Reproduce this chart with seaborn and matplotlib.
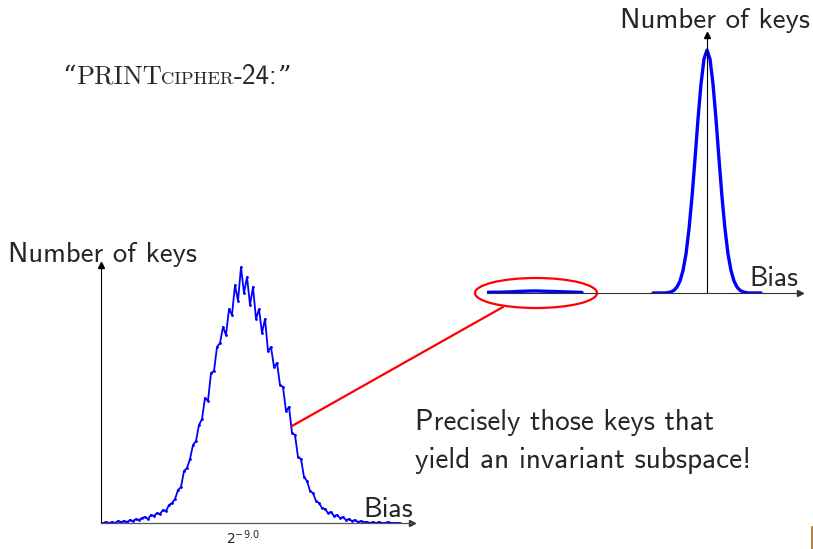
import numpy as np
import pandas as pd
import matplotlib
matplotlib.use("Agg")
import matplotlib.pyplot as plt
import seaborn as sns
from matplotlib.patches import Ellipse, ConnectionPatch
from matplotlib.lines import Line2D

# ---------------- data ----------------
# Left: histogram of bias over many keys (centred on 2^-9)
bias_left = np.linspace(0.000553, 0.003523, 100)
keys_left = [0, 1, 0, 1, 0, 2, 1, 2, 1, 3,
             2, 4, 3, 5, 6, 4, 8, 7, 10, 9,
             13, 12, 18, 20, 24, 33, 36, 52, 55, 64,
             78, 82, 98, 104, 125, 122, 150, 152, 176, 180,
             196, 188, 214, 208, 238, 222, 256, 230, 246, 218,
             236, 204, 214, 190, 204, 172, 176, 156, 160, 138,
             136, 112, 116, 90, 88, 66, 64, 46, 42, 32,
             30, 22, 20, 15, 14, 10, 11, 7, 8, 5,
             6, 3, 4, 2, 3, 1, 2, 1, 1, 0,
             1, 0, 1, 0, 0, 1, 0, 0, 0, 0]
tick_left = [2 ** -9.0]
tick_left_labels = [r"$2^{-9.0}$"]

# Right: full picture - invariant-subspace keys (far left) and the main peak
bias_inv = np.linspace(-0.00220, -0.00125, 16)
keys_inv = [0.6, 0.8, 0.8, 1.0, 1.2, 1.6, 1.8, 2.0,
            2.0, 1.8, 1.6, 1.4, 1.2, 1.0, 0.8, 0.6]
bias_main = np.linspace(-0.00054, 0.00054, 37)
keys_main = [0, 0, 0, 0, 0, 0.4, 1.1, 2.7, 6, 12, 22.5, 39, 64, 96, 134, 174, 209, 234,
             243,
             234, 209, 174, 134, 96, 64, 39, 22.5, 12, 6, 2.7, 1.1, 0.4, 0, 0, 0, 0, 0]

df_left = pd.DataFrame({"bias": bias_left, "keys": keys_left})
df_inv = pd.DataFrame({"bias": bias_inv, "keys": keys_inv})
df_main = pd.DataFrame({"bias": bias_main, "keys": keys_main})

# ---------------- style ----------------
sns.set_style("white")
plt.rcParams["font.family"] = ["cmss10", "DejaVu Sans"]
plt.rcParams["axes.unicode_minus"] = False
plt.rcParams["mathtext.fontset"] = "dejavusans"

W, H = 813, 549
fig = plt.figure(figsize=(W / 100, H / 100), dpi=100)
fig.patch.set_facecolor("white")
BLUE = "#0000ff"

def fx(x):
    return x / W

def fy(y):
    return 1 - y / H

# ---------------- left axes ----------------
ax1 = fig.add_axes([fx(101), fy(523), 311 / W, 258 / H])
sns.lineplot(data=df_left, x="bias", y="keys", ax=ax1, color=BLUE, lw=1.3,
             marker="o", markersize=2.0, markeredgewidth=0, markerfacecolor=BLUE)
ax1.set_xlim(0.000533, 0.003643)
ax1.set_ylim(0, 258)
for s in ["top", "right"]:
    ax1.spines[s].set_visible(False)
ax1.spines["left"].set_color("black")
ax1.spines["left"].set_linewidth(0.8)
ax1.spines["bottom"].set_color("#555555")
ax1.spines["bottom"].set_linewidth(0.9)
ax1.set_yticks([])
ax1.set_xticks(tick_left)
ax1.set_xticklabels(tick_left_labels, fontsize=10)
ax1.tick_params(axis="x", direction="inout", length=6, width=0.8, color="#777777", pad=1)
ax1.set_xlabel("")
ax1.set_ylabel("")
ax1.set_facecolor("none")
ax1.plot(1.0, 0, ">", transform=ax1.transAxes, clip_on=False, color="#333333", markersize=4)
ax1.plot(0, 1.0, "^", transform=ax1.transAxes, clip_on=False, color="black", markersize=4)

# ---------------- right axes ----------------
ax2 = fig.add_axes([fx(487), fy(293), 313 / W, 258 / H])
sns.lineplot(data=df_inv, x="bias", y="keys", ax=ax2, color=BLUE, lw=2.4)
sns.lineplot(data=df_main, x="bias", y="keys", ax=ax2, color=BLUE, lw=2.4)
ax2.set_xlim(-0.00220, 0.00093)
ax2.set_ylim(0, 258)
for s in ["top", "right"]:
    ax2.spines[s].set_visible(False)
ax2.spines["left"].set_position(("data", 0))
ax2.spines["left"].set_linewidth(0.8)
ax2.spines["left"].set_color("black")
ax2.spines["bottom"].set_linewidth(0.8)
ax2.spines["bottom"].set_color("#333333")
ax2.set_xticks([])
ax2.set_yticks([])
ax2.set_xlabel("")
ax2.set_ylabel("")
ax2.set_facecolor("none")
ax2.plot(1.0, 0, ">", transform=ax2.get_yaxis_transform(), clip_on=False, color="#333333", markersize=4)
ax2.plot(0, 1.0, "^", transform=ax2.get_xaxis_transform(), clip_on=False, color="black", markersize=4)

# ellipse around the invariant-subspace keys
ell = Ellipse((-0.00171, 0), 0.00122, 30, fill=False, edgecolor="red", lw=1.6, clip_on=False)
ax2.add_patch(ell)
con = ConnectionPatch(xyA=(-0.00204, -14), coordsA=ax2.transData,
                      xyB=(0.002443, 97), coordsB=ax1.transData,
                      color="red", lw=1.6)
fig.add_artist(con)

# ---------------- texts ----------------
fig.canvas.draw()
R = fig.canvas.get_renderer()

def put(x, y, s, width=None, size=18, **kw):
    t = fig.text(fx(x), fy(y), s, va="baseline", ha="left", fontsize=size, **kw)
    if width is not None:
        bb = t.get_window_extent(R)
        t.set_fontsize(size * width / bb.width)
    return t

put(8, 262, "Number of keys", width=189)
put(620, 28, "Number of keys", width=190)
put(363, 517, "Bias", width=50)
put(749, 286, "Bias", width=49)
put(415, 430, "Precisely those keys that", width=300)
put(415, 468, "yield an invariant subspace!", width=337)

# title with small caps emulation
serif = ["cmr10", "DejaVu Serif"]
x = 62
pieces = [("\u201c", serif, 19), ("PRINT", serif, 19), ("CIPHER", serif, 13.3),
          ("-24:", ["cmss10", "DejaVu Sans"], 19.5), ("\u201d", serif, 19)]
for s, fam, sz in pieces:
    t = fig.text(fx(x), fy(84), s, va="baseline", ha="left", fontsize=sz, family=fam)
    bb = t.get_window_extent(R)
    x += bb.width

# small beamer decoration bottom right
fig.add_artist(Line2D([fx(811.5), fx(811.5)], [fy(549), fy(527)], color="#b5834a", lw=1.5))

fig.savefig("out.png", dpi=100)
